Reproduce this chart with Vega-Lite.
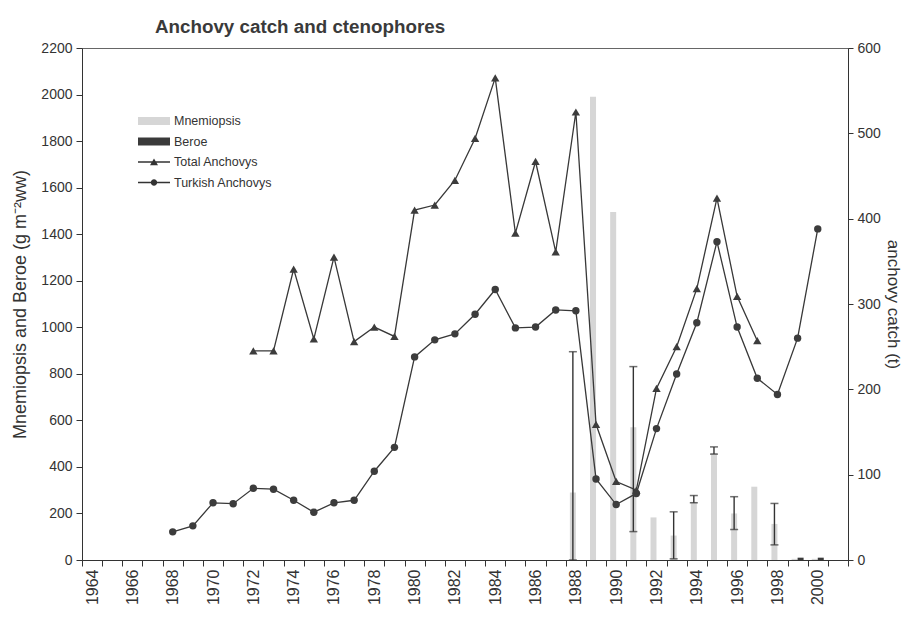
{
  "$schema": "https://vega.github.io/schema/vega-lite/v6.json",
  "width": 766,
  "height": 512,
  "autosize": {"type": "none"},
  "padding": {"left": 82, "top": 48, "right": 59, "bottom": 59},
  "background": "white",
  "title": {
    "text": "Anchovy catch and ctenophores",
    "anchor": "start",
    "frame": "group",
    "dx": 73,
    "offset": 4,
    "fontSize": 18.8,
    "fontWeight": "bold",
    "color": "#3a3a3a",
    "font": "Liberation Sans"
  },
  "config": {
    "font": "Liberation Sans",
    "view": {"stroke": "#666", "strokeWidth": 1},
    "axis": {
      "grid": false,
      "domainColor": "#333",
      "tickColor": "#333",
      "labelColor": "#333",
      "titleColor": "#333",
      "labelFont": "Liberation Sans",
      "titleFont": "Liberation Sans"
    }
  },
  "datasets": {
    "ctenophores": [
      {"year": 1988, "series": "Mnemiopsis", "biomass": 290},
      {"year": 1989, "series": "Mnemiopsis", "biomass": 1990},
      {"year": 1990, "series": "Mnemiopsis", "biomass": 1495},
      {"year": 1991, "series": "Mnemiopsis", "biomass": 570},
      {"year": 1992, "series": "Mnemiopsis", "biomass": 183},
      {"year": 1993, "series": "Mnemiopsis", "biomass": 105},
      {"year": 1994, "series": "Mnemiopsis", "biomass": 250},
      {"year": 1995, "series": "Mnemiopsis", "biomass": 460},
      {"year": 1996, "series": "Mnemiopsis", "biomass": 200},
      {"year": 1997, "series": "Mnemiopsis", "biomass": 315},
      {"year": 1998, "series": "Mnemiopsis", "biomass": 155},
      {"year": 1999, "series": "Mnemiopsis", "biomass": 5},
      {"year": 2000, "series": "Mnemiopsis", "biomass": 5},
      {"year": 1999, "series": "Beroe", "biomass": 10},
      {"year": 2000, "series": "Beroe", "biomass": 10}
    ],
    "errors": [
      {"year": 1988, "series": "Mnemiopsis", "lo": 0, "hi": 895},
      {"year": 1991, "series": "Mnemiopsis", "lo": 122, "hi": 831},
      {"year": 1993, "series": "Mnemiopsis", "lo": 5, "hi": 207},
      {"year": 1994, "series": "Mnemiopsis", "lo": 246, "hi": 277},
      {"year": 1995, "series": "Mnemiopsis", "lo": 455, "hi": 486},
      {"year": 1996, "series": "Mnemiopsis", "lo": 131, "hi": 272},
      {"year": 1998, "series": "Mnemiopsis", "lo": 65, "hi": 243}
    ],
    "anchovy": [
      {"year": 1972, "series": "Total Anchovys", "catch": 245},
      {"year": 1973, "series": "Total Anchovys", "catch": 245},
      {"year": 1974, "series": "Total Anchovys", "catch": 341},
      {"year": 1975, "series": "Total Anchovys", "catch": 259},
      {"year": 1976, "series": "Total Anchovys", "catch": 355},
      {"year": 1977, "series": "Total Anchovys", "catch": 256},
      {"year": 1978, "series": "Total Anchovys", "catch": 273},
      {"year": 1979, "series": "Total Anchovys", "catch": 262},
      {"year": 1980, "series": "Total Anchovys", "catch": 410},
      {"year": 1981, "series": "Total Anchovys", "catch": 416},
      {"year": 1982, "series": "Total Anchovys", "catch": 445},
      {"year": 1983, "series": "Total Anchovys", "catch": 494},
      {"year": 1984, "series": "Total Anchovys", "catch": 565},
      {"year": 1985, "series": "Total Anchovys", "catch": 383},
      {"year": 1986, "series": "Total Anchovys", "catch": 467},
      {"year": 1987, "series": "Total Anchovys", "catch": 361},
      {"year": 1988, "series": "Total Anchovys", "catch": 525},
      {"year": 1989, "series": "Total Anchovys", "catch": 159},
      {"year": 1990, "series": "Total Anchovys", "catch": 92},
      {"year": 1991, "series": "Total Anchovys", "catch": 82},
      {"year": 1992, "series": "Total Anchovys", "catch": 201},
      {"year": 1993, "series": "Total Anchovys", "catch": 250},
      {"year": 1994, "series": "Total Anchovys", "catch": 318},
      {"year": 1995, "series": "Total Anchovys", "catch": 424},
      {"year": 1996, "series": "Total Anchovys", "catch": 309},
      {"year": 1997, "series": "Total Anchovys", "catch": 257},
      {"year": 1968, "series": "Turkish Anchovys", "catch": 33},
      {"year": 1969, "series": "Turkish Anchovys", "catch": 40},
      {"year": 1970, "series": "Turkish Anchovys", "catch": 67},
      {"year": 1971, "series": "Turkish Anchovys", "catch": 66},
      {"year": 1972, "series": "Turkish Anchovys", "catch": 84},
      {"year": 1973, "series": "Turkish Anchovys", "catch": 83},
      {"year": 1974, "series": "Turkish Anchovys", "catch": 70},
      {"year": 1975, "series": "Turkish Anchovys", "catch": 56},
      {"year": 1976, "series": "Turkish Anchovys", "catch": 67},
      {"year": 1977, "series": "Turkish Anchovys", "catch": 70},
      {"year": 1978, "series": "Turkish Anchovys", "catch": 104},
      {"year": 1979, "series": "Turkish Anchovys", "catch": 132},
      {"year": 1980, "series": "Turkish Anchovys", "catch": 238},
      {"year": 1981, "series": "Turkish Anchovys", "catch": 258},
      {"year": 1982, "series": "Turkish Anchovys", "catch": 265},
      {"year": 1983, "series": "Turkish Anchovys", "catch": 288},
      {"year": 1984, "series": "Turkish Anchovys", "catch": 317},
      {"year": 1985, "series": "Turkish Anchovys", "catch": 272},
      {"year": 1986, "series": "Turkish Anchovys", "catch": 273},
      {"year": 1987, "series": "Turkish Anchovys", "catch": 293},
      {"year": 1988, "series": "Turkish Anchovys", "catch": 292},
      {"year": 1989, "series": "Turkish Anchovys", "catch": 95},
      {"year": 1990, "series": "Turkish Anchovys", "catch": 65},
      {"year": 1991, "series": "Turkish Anchovys", "catch": 78},
      {"year": 1992, "series": "Turkish Anchovys", "catch": 154},
      {"year": 1993, "series": "Turkish Anchovys", "catch": 218},
      {"year": 1994, "series": "Turkish Anchovys", "catch": 278},
      {"year": 1995, "series": "Turkish Anchovys", "catch": 373},
      {"year": 1996, "series": "Turkish Anchovys", "catch": 273},
      {"year": 1997, "series": "Turkish Anchovys", "catch": 213},
      {"year": 1998, "series": "Turkish Anchovys", "catch": 194},
      {"year": 1999, "series": "Turkish Anchovys", "catch": 260},
      {"year": 2000, "series": "Turkish Anchovys", "catch": 388}
    ]
  },
  "encoding": {
    "x": {
      "field": "year",
      "type": "ordinal",
      "scale": {
        "type": "band",
        "domain": [1964, 1965, 1966, 1967, 1968, 1969, 1970, 1971, 1972, 1973, 1974, 1975, 1976, 1977, 1978, 1979, 1980, 1981, 1982, 1983, 1984, 1985, 1986, 1987, 1988, 1989, 1990, 1991, 1992, 1993, 1994, 1995, 1996, 1997, 1998, 1999, 2000, 2001],
        "paddingInner": 0,
        "paddingOuter": 0
      },
      "axis": {
        "title": null,
        "tickBand": "extent",
        "labelAngle": 270,
        "labelAlign": "right",
        "labelBaseline": "middle",
        "labelExpr": "datum.value % 2 === 0 ? datum.label : ''",
        "labelOverlap": false,
        "labelFontSize": 16,
        "labelPadding": 3,
        "tickSize": 6
      }
    }
  },
  "layer": [
    {
      "layer": [
        {
          "data": {"name": "ctenophores"},
          "mark": {"type": "bar"},
          "encoding": {
            "xOffset": {
              "field": "series",
              "scale": {"domain": ["Mnemiopsis", "Beroe"], "paddingInner": 0, "paddingOuter": 0.68}
            },
            "y": {
              "field": "biomass",
              "type": "quantitative",
              "scale": {"domain": [0, 2200], "nice": false},
              "axis": {
                "orient": "left",
                "values": [0, 200, 400, 600, 800, 1000, 1200, 1400, 1600, 1800, 2000, 2200],
                "format": "d",
                "title": "Mnemiopsis   and  Beroe     (g m⁻²ww)",
                "titleFontSize": 18,
                "titleFontWeight": "normal",
                "titlePadding": 11,
                "labelFontSize": 14,
                "labelPadding": 4,
                "tickSize": 6
              }
            },
            "color": {
              "field": "series",
              "type": "nominal",
              "scale": {
                "domain": ["Mnemiopsis", "Beroe", "Total Anchovys", "Turkish Anchovys"],
                "range": ["#d6d6d6", "#3a3a3a", "#333333", "#333333"]
              },
              "legend": {
                "orient": "none",
                "legendX": 62,
                "legendY": 63,
                "title": null,
                "labelFontSize": 12.5,
                "labelColor": "#333",
                "symbolSize": 400,
                "labelOffset": 10,
                "rowPadding": 3.5,
                "padding": 0,
                "encode": {
                  "symbols": {
                    "update": {
                      "shape": {"signal": "datum.value === 'Total Anchovys' ? 'M-1.6,-0.07H1.6V0.07H-1.6Z M-0.4,0.32L0,-0.36L0.4,0.32Z' : (datum.value === 'Turkish Anchovys' ? 'M-1.6,-0.07H1.6V0.07H-1.6Z M0.32,0A0.32,0.32,0,1,1,-0.32,0A0.32,0.32,0,1,1,0.32,0Z' : 'M-1.6,-0.4H1.6V0.4H-1.6Z')"},
                      "fill": {"scale": "color", "field": "value"},
                      "strokeWidth": {"value": 0},
                      "opacity": {"value": 1}
                    }
                  }
                }
              }
            }
          }
        },
        {
          "data": {"name": "errors"},
          "mark": {"type": "rule", "color": "#333", "strokeWidth": 1.4},
          "encoding": {
            "xOffset": {"field": "series"},
            "y": {"field": "lo", "type": "quantitative"},
            "y2": {"field": "hi"}
          }
        },
        {
          "data": {"name": "errors"},
          "mark": {"type": "tick", "color": "#333", "size": 8, "thickness": 1.5, "orient": "horizontal"},
          "encoding": {
            "xOffset": {"field": "series"},
            "y": {"field": "lo", "type": "quantitative"}
          }
        },
        {
          "data": {"name": "errors"},
          "mark": {"type": "tick", "color": "#333", "size": 8, "thickness": 1.5, "orient": "horizontal"},
          "encoding": {
            "xOffset": {"field": "series"},
            "y": {"field": "hi", "type": "quantitative"}
          }
        }
      ]
    },
    {
      "data": {"name": "anchovy"},
      "layer": [
        {
          "mark": {"type": "line", "color": "#383838", "strokeWidth": 1.3},
          "encoding": {
            "y": {
              "field": "catch",
              "type": "quantitative",
              "scale": {"domain": [0, 600], "nice": false},
              "axis": {
                "orient": "right",
                "values": [0, 100, 200, 300, 400, 500, 600],
                "title": "anchovy catch (t)",
                "titleFontSize": 17,
                "titleFontWeight": "normal",
                "titlePadding": 3,
                "labelFontSize": 14,
                "labelPadding": 4,
                "tickSize": 5
              }
            },
            "detail": {"field": "series"}
          }
        },
        {
          "transform": [{"filter": "datum.series === 'Total Anchovys'"}],
          "mark": {"type": "point", "shape": "triangle-up", "filled": true, "size": 70, "color": "#3c3c3c", "opacity": 1},
          "encoding": {
            "y": {"field": "catch", "type": "quantitative"}
          }
        },
        {
          "transform": [{"filter": "datum.series === 'Turkish Anchovys'"}],
          "mark": {"type": "point", "shape": "circle", "filled": true, "size": 55, "color": "#3c3c3c", "opacity": 1},
          "encoding": {
            "y": {"field": "catch", "type": "quantitative"}
          }
        }
      ]
    }
  ],
  "resolve": {"scale": {"y": "independent"}}
}
